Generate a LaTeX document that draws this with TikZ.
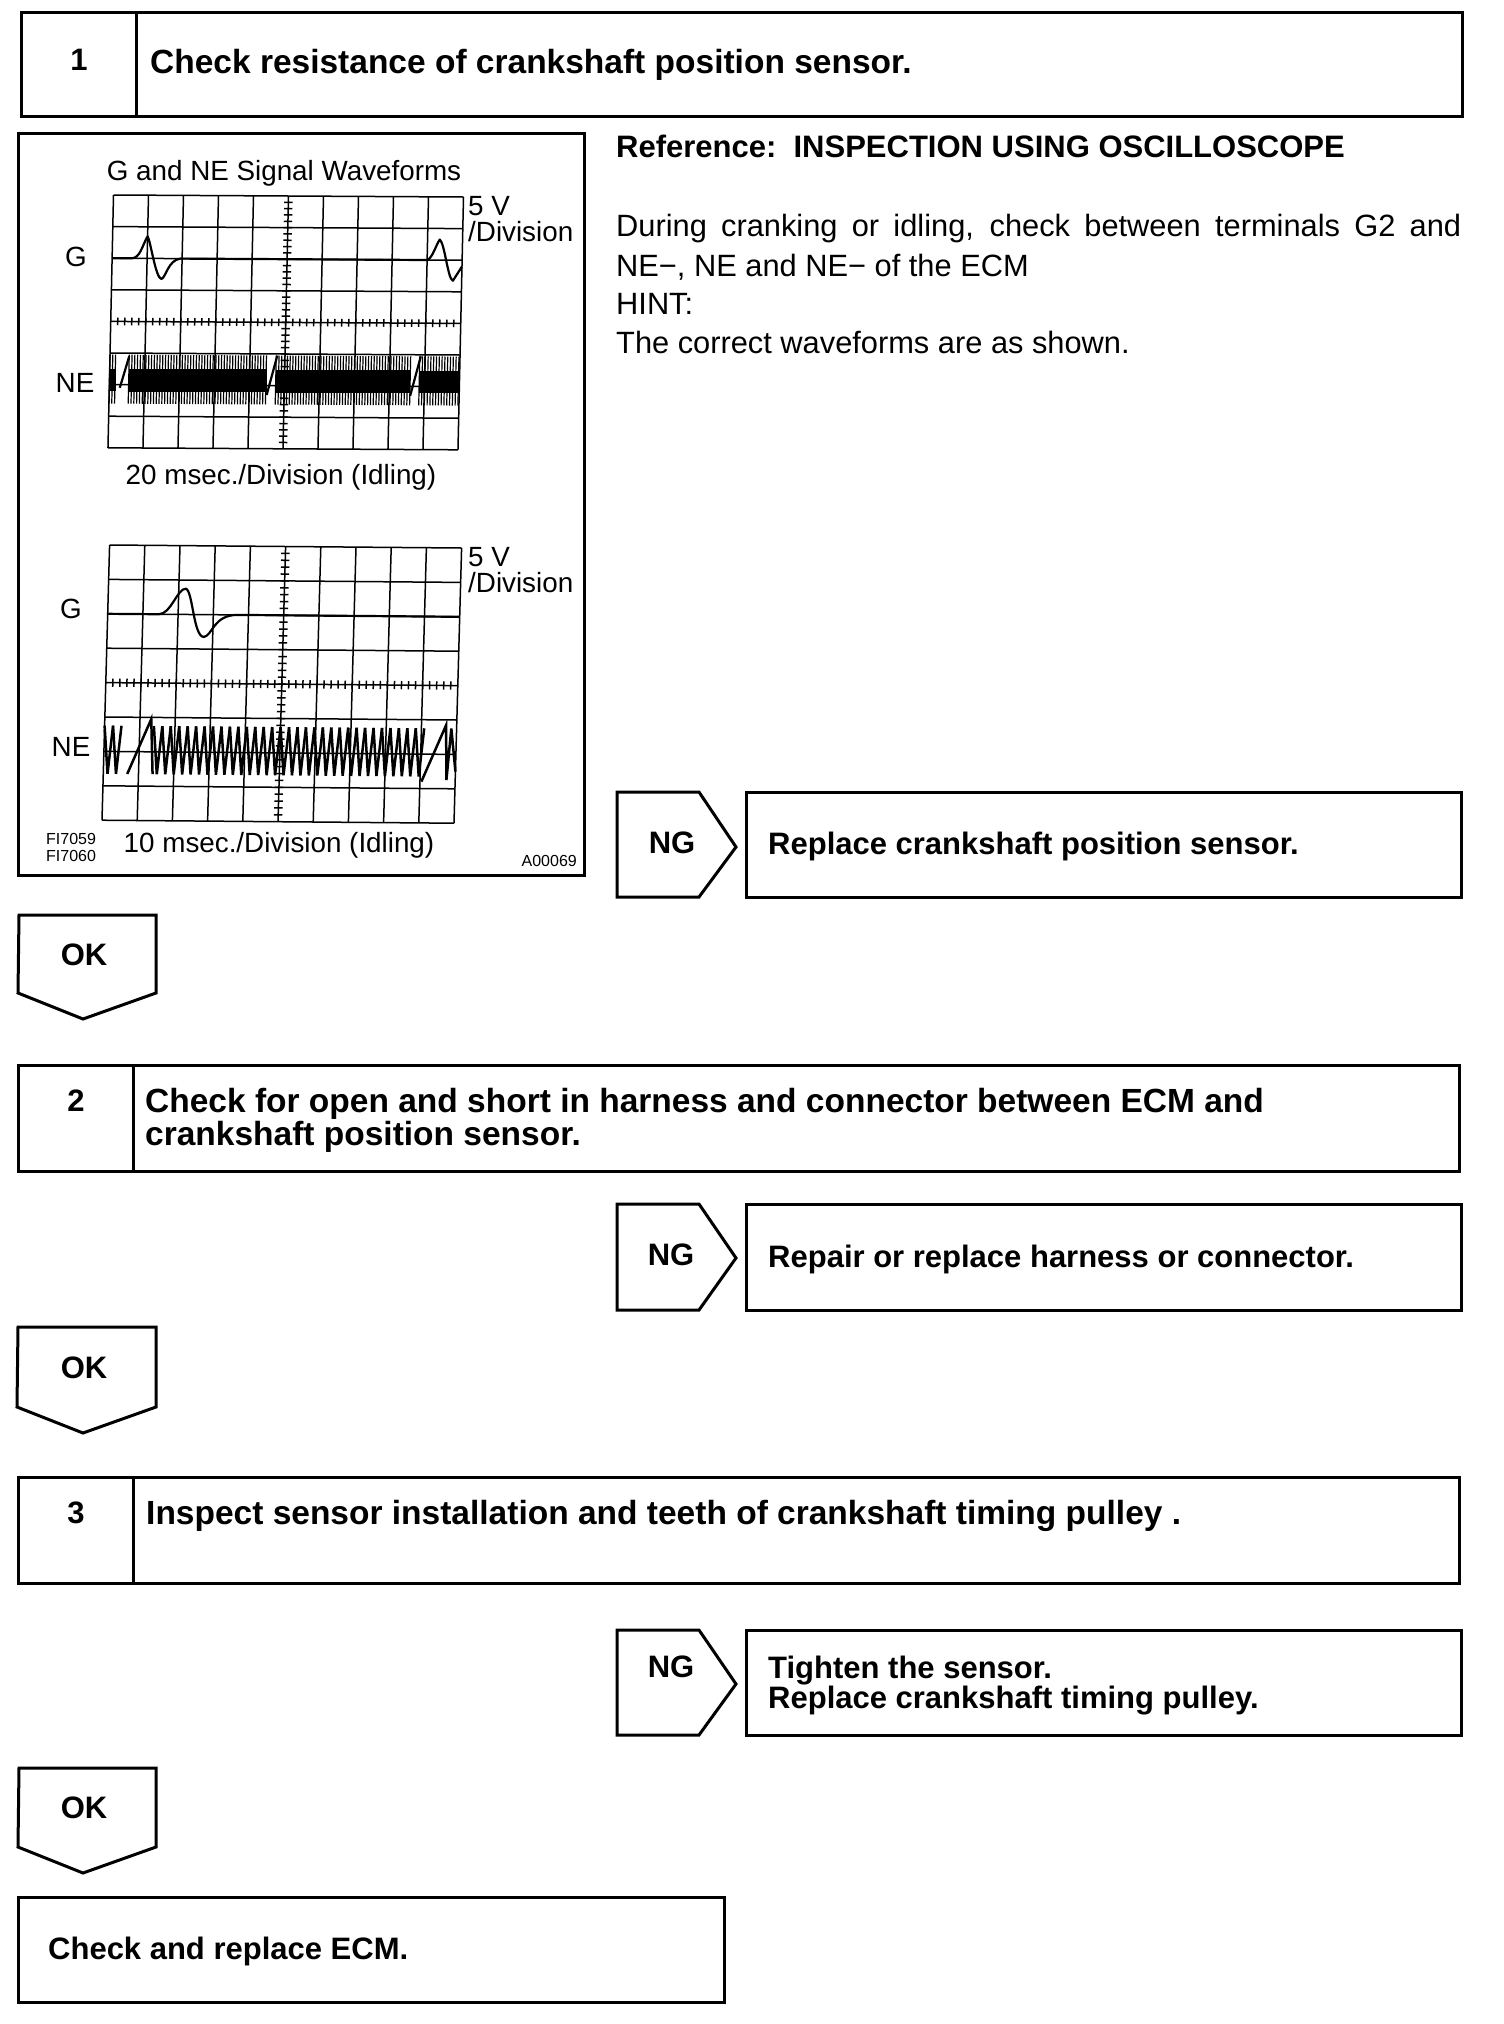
\documentclass[tikz,border=0pt]{standalone}
\usepackage{fontspec}
\setmainfont{Liberation Sans}
\newcommand{\stepbtxt}{\fontsize{33.5}{33}\selectfont\bfseries}
\newcommand{\bigbtxt}{\fontsize{31}{33}\selectfont\bfseries}
\newcommand{\regtxt}{\fontsize{30.8}{33}\selectfont}
\newcommand{\figtxt}{\fontsize{27.8}{26}\selectfont}
\newcommand{\smalltxt}{\fontsize{16}{16}\selectfont}
\newcommand{\scopegrid}{%
  \foreach \c in {0,...,10} {\draw[gridl] (\c,0) -- (\c,8);}
  \foreach \r in {0,...,8} {\draw[gridl] (0,\r) -- (10,\r);}
  \foreach \t in {0.2,0.4,...,7.9} {\draw[tickl] (4.88,\t) -- (5.12,\t);}
  \foreach \t in {0.2,0.4,...,9.9} {\draw[tickl] (\t,3.88) -- (\t,4.12);}
}
\newcommand{\densewave}[2]{%
  \fill[black] (#1,5.5) rectangle (#2,6.2);
  \pgfmathsetmacro{\xb}{#1+0.08}
  \foreach \x in {#1,\xb,...,#2} {\draw[line width=1.2pt] (\x,5.05) -- (\x,6.6);}
}
\newcommand{\zigwave}[2]{%
  \pgfmathsetmacro{\xb}{#1+0.24}
  \foreach \x in {#1,\xb,...,#2} {\draw[zig] (\x,5.25) -- (\x+0.12,6.65) -- (\x+0.24,5.25);}
}
\tikzset{
  box/.style={draw=black,line width=3pt,line join=miter},
  thinbox/.style={draw=black,line width=3pt},
  gridl/.style={draw=black,line width=1.5pt},
  tickl/.style={draw=black,line width=1.5pt},
  trace/.style={draw=black,line width=2.2pt,line join=round},
  zig/.style={draw=black,line width=2.5pt},
  ts/.style={inner sep=0pt,anchor=base west,font=\stepbtxt},
  tsc/.style={inner sep=0pt,anchor=base,font=\stepbtxt},
  tb/.style={inner sep=0pt,anchor=base west,font=\bigbtxt},
  tc/.style={inner sep=0pt,anchor=base,font=\bigbtxt},
  tr/.style={inner sep=0pt,anchor=base west,font=\regtxt},
  tf/.style={inner sep=0pt,anchor=base west,font=\figtxt},
  tfc/.style={inner sep=0pt,anchor=base,font=\figtxt},
}
\begin{document}
\begin{tikzpicture}[x=1pt,y=-1pt]
\useasboundingbox[fill=white] (0,0) rectangle (1504,2024);

% step boxes
\draw[box] (21,12) rectangle (1462,116);  \draw[box] (136,12) -- (136,116);
\draw[box] (18,1065) rectangle (1459,1171); \draw[box] (133,1065) -- (133,1171);
\draw[box] (18,1477) rectangle (1459,1583); \draw[box] (133,1477) -- (133,1583);
\node[tc] (n1) at (79,70) {1};
\node[tc] (n2) at (76,1111) {2};
\node[tc] (n3) at (76,1523) {3};
\node[ts] (s1) at (150,73) {Check resistance of crankshaft position sensor.};
\node[ts] (s2a) at (145,1112) {Check for open and short in harness and connector between ECM and};
\node[ts] (s2b) at (145,1145) {crankshaft position sensor.};
\node[ts] (s3) at (146,1524) {Inspect sensor installation and teeth of crankshaft timing pulley .};

% figure frame
\draw[box] (18,133) rectangle (584,875);
\node[tfc] (ft) at (284,180) {G and NE Signal Waveforms};

% upper scope
\begin{scope}[shift={(113.5,195)},x={(35pt,-0.2pt)},y={(-0.69pt,-31.6pt)}]
  \scopegrid
  \draw[trace] (0,2) -- (0.55,2) .. controls (0.8,2) and (0.85,1.6) .. (1,1.3)
     .. controls (1.1,1.5) and (1.25,2.6) .. (1.42,2.65)
     .. controls (1.55,2.6) and (1.6,2.05) .. (1.95,2) -- (9,2)
     .. controls (9.15,1.95) and (9.25,1.5) .. (9.35,1.35)
     .. controls (9.5,1.5) and (9.6,2.6) .. (9.75,2.65) -- (10,2.2);
  \densewave{0}{0.2}
  \densewave{0.55}{4.5}
  \densewave{4.75}{8.6}
  \densewave{8.85}{10}
  \draw[trace] (0.3,6.1) -- (0.55,5.1);
  \draw[trace] (4.5,6.3) -- (4.78,5.05);
  \draw[trace] (8.6,6.3) -- (8.88,5.05);
\end{scope}

% lower scope
\begin{scope}[shift={(109.6,545)},x={(35.2pt,-0.3pt)},y={(-0.95pt,-34.4pt)}]
  \scopegrid
  \draw[trace] (0,2) -- (1.45,2) .. controls (1.8,2) and (1.95,1.25) .. (2.2,1.25)
     .. controls (2.4,1.3) and (2.45,2.65) .. (2.75,2.65)
     .. controls (3,2.6) and (3,2) .. (3.7,2) -- (10,2);
  \zigwave{0}{0.45}
  \draw[zig] (0.68,6.65) -- (1.32,5.05) -- (1.4,6.65);
  \zigwave{1.4}{8.9}
  \draw[zig] (9.04,6.8) -- (9.7,5.15) -- (9.75,6.75) -- (9.85,5.25) -- (10,6.5);
\end{scope}

% figure labels
\node[tf] (u1a) at (468,215) {5 V};
\node[tf] (u1b) at (468,241) {/Division};
\node[tf] (u2a) at (468,566) {5 V};
\node[tf] (u2b) at (468,592) {/Division};
\node[tfc] (g1) at (76,266) {G};
\node[tfc] (ne1) at (75,392) {NE};
\node[tfc] (g2) at (71,618) {G};
\node[tfc] (ne2) at (71,756) {NE};
\node[tfc] (c1) at (281,484) {20 msec./Division (Idling)};
\node[tfc] (c2) at (279,852) {10 msec./Division (Idling)};
\node[inner sep=0pt,anchor=base west,font=\smalltxt] (fi1) at (46,844) {FI7059};
\node[inner sep=0pt,anchor=base west,font=\smalltxt] (fi2) at (46,861) {FI7060};
\node[inner sep=0pt,anchor=base east,font=\smalltxt] (code) at (577,866) {A00069};

% right text
\node[tb] (ref) at (616,157) {Reference:\ \ INSPECTION USING OSCILLOSCOPE};
\node[tr] (l1) at (616,236) {\makebox[845pt][s]{During cranking or idling, check between terminals G2 and}};
\node[tr] (l2) at (616,276) {NE−, NE and NE− of the ECM};
\node[tr] (l3) at (616,314) {HINT:};
\node[tr] (l4) at (616,353) {The correct waveforms are as shown.};

% NG 1
\draw[thinbox] (617,792) -- (699,792) -- (736,847) -- (699,897) -- (617,897) -- cycle;
\draw[box] (746,792) rectangle (1461,897);
\node[tc] (ng1) at (672,853) {NG};
\node[tb] (r1) at (768,854) {Replace crankshaft position sensor.};
% NG 2
\draw[thinbox] (617,1204) -- (699,1204) -- (736,1258) -- (699,1310) -- (617,1310) -- cycle;
\draw[box] (746,1204) rectangle (1461,1310);
\node[tc] (ng2) at (671,1265) {NG};
\node[tb] (r2) at (768,1267) {Repair or replace harness or connector.};
% NG 3
\draw[thinbox] (617,1630) -- (699,1630) -- (736,1684) -- (699,1735) -- (617,1735) -- cycle;
\draw[box] (746,1630) rectangle (1461,1735);
\node[tc] (ng3) at (671,1677) {NG};
\node[tb] (r3a) at (768,1678) {Tighten the sensor.};
\node[tb] (r3b) at (768,1708) {Replace crankshaft timing pulley.};

% OK
\draw[thinbox] (19,915) -- (156,915) -- (156,993) -- (83,1019) -- (18,993) -- cycle;
\node[tc] (ok1) at (84,965) {OK};
\draw[thinbox] (18,1327) -- (156,1327) -- (156,1407) -- (83,1433) -- (17,1407) -- cycle;
\node[tc] (ok2) at (84,1378) {OK};
\draw[thinbox] (19,1768) -- (156,1768) -- (156,1847) -- (83,1873) -- (18,1847) -- cycle;
\node[tc] (ok3) at (84,1818) {OK};

% final
\draw[box] (18,1897) rectangle (724,2002);
\node[tb] (fin) at (48,1959) {Check and replace ECM.};
\end{tikzpicture}
\end{document}
